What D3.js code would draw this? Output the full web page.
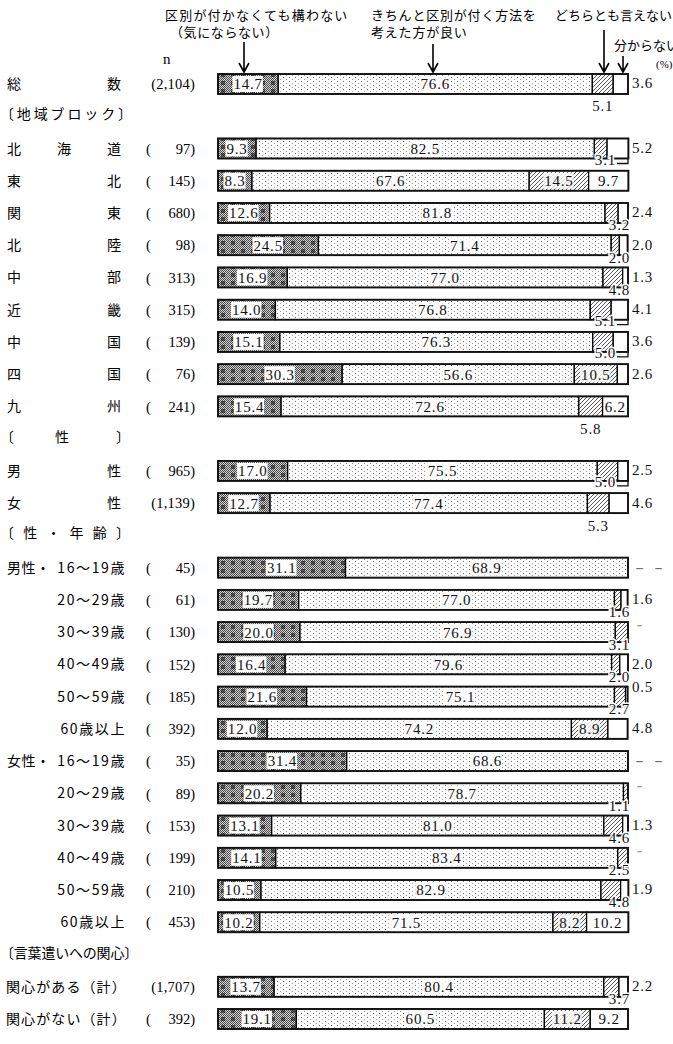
<!DOCTYPE html>
<html><head><meta charset="utf-8">
<script src="https://cdn.jsdelivr.net/npm/d3@7"></script>
<style>body{margin:0;background:#fff}svg{display:block}</style>
</head><body><svg id="c" width="673" height="1044"></svg>
<script>
// ---------------- data ----------------
const categories = ["総数","北海道","東北","関東","北陸","中部","近畿","中国","四国","九州","男性","女性",
  "男性・16～19歳","男性・20～29歳","男性・30～39歳","男性・40～49歳","男性・50～59歳","男性・60歳以上",
  "女性・16～19歳","女性・20～29歳","女性・30～39歳","女性・40～49歳","女性・50～59歳","女性・60歳以上",
  "関心がある（計）","関心がない（計）"];
const sampleN = [2104,97,145,680,98,313,315,139,76,241,965,1139,45,61,130,152,185,392,35,89,153,199,210,453,1707,392];
const notCare  = [14.7,9.3,8.3,12.6,24.5,16.9,14.0,15.1,30.3,15.4,17.0,12.7,31.1,19.7,20.0,16.4,21.6,12.0,31.4,20.2,13.1,14.1,10.5,10.2,13.7,19.1];
const better   = [76.6,82.5,67.6,81.8,71.4,77.0,76.8,76.3,56.6,72.6,75.5,77.4,68.9,77.0,76.9,79.6,75.1,74.2,68.6,78.7,81.0,83.4,82.9,71.5,80.4,60.5];
const neither  = [5.1,3.1,14.5,3.2,2.0,4.8,5.1,5.0,10.5,5.8,5.0,5.3,null,1.6,3.1,2.0,2.7,8.9,null,1.1,4.6,2.5,4.8,8.2,3.7,11.2];
const dontKnow = [3.6,5.2,9.7,2.4,2.0,1.3,4.1,3.6,2.6,6.2,2.5,4.6,null,1.6,null,2.0,0.5,4.8,null,null,1.3,null,1.9,10.2,2.2,9.2];
const seriesKeys = ["notCare","better","neither","dontKnow"];
const sectionTitles = ["地域ブロック","性","性・年齢","言葉遣いへの関心"];
const sectionStart  = [1,10,12,24];   // section header placed before this category index

// ---------------- setup ----------------
const svg = d3.select("#c");
const JP = "'Noto Sans CJK JP', sans-serif";
const NUM = "'Liberation Serif', 'DejaVu Serif', serif";

const defs = svg.append("defs");
// pattern 1: mesh with darker blocks
const p1 = defs.append("pattern").attr("id","pMesh").attr("width",10).attr("height",8).attr("patternUnits","userSpaceOnUse");
for (let i=0;i<10;i++) for (let j=0;j<8;j++){
  const inBlock = i>=1 && i<=4 && j>=1 && j<=4;
  const dark = (i+j)%2===0;
  p1.append("rect").attr("x",i).attr("y",j).attr("width",1).attr("height",1)
    .attr("fill", inBlock ? (dark ? "#1e1e1e" : "#707070") : (dark ? "#4a4a4a" : "#d4d4d4"));
}
// pattern 2: sparse dots
const p2 = defs.append("pattern").attr("id","pDots").attr("width",6).attr("height",4).attr("patternUnits","userSpaceOnUse");
p2.append("rect").attr("width",6).attr("height",4).attr("fill","#fff");
p2.append("rect").attr("x",1).attr("y",1).attr("width",1).attr("height",1).attr("fill","#666");
p2.append("rect").attr("x",4).attr("y",3).attr("width",1).attr("height",1).attr("fill","#999");
// pattern 3: diagonal hatch
const p3 = defs.append("pattern").attr("id","pHatch").attr("width",4).attr("height",4).attr("patternUnits","userSpaceOnUse");
p3.append("rect").attr("width",4).attr("height",4).attr("fill","#fff");
p3.append("path").attr("d","M-1,1 L1,-1 M0,4 L4,0 M3,5 L5,3").attr("stroke","#444").attr("stroke-width",0.9);
const fills = {notCare:"url(#pMesh)", better:"url(#pDots)", neither:"url(#pHatch)", dontKnow:"#fff"};

// slots (rows + section headers)
const slots = [];
categories.forEach((c,i)=>{
  const s = sectionStart.indexOf(i);
  if (s>=0) slots.push("#"+sectionTitles[s]);
  slots.push(c);
});
const y = d3.scalePoint().domain(slots).range([84,1019]);
const x = d3.scaleLinear().domain([0,100]).range([218,628]);
const barH = 20;

const table = categories.map((c,i)=>({cat:c, n:sampleN[i], notCare:notCare[i], better:better[i], neither:neither[i]||0, dontKnow:dontKnow[i]||0, rawNeither:neither[i], rawDK:dontKnow[i]}));
const stack = d3.stack().keys(seriesKeys)(table);

// ---------------- header ----------------
const hdr = svg.append("g").attr("font-family",JP).attr("font-size",13).attr("fill","#000");
hdr.append("text").attr("x",165).attr("y",20).attr("letter-spacing",1.2).text("区別が付かなくても構わない");
hdr.append("text").attr("x",170).attr("y",37).attr("letter-spacing",0.6).text("（気にならない）");
hdr.append("text").attr("x",371).attr("y",20).attr("letter-spacing",0.8).text("きちんと区別が付く方法を");
hdr.append("text").attr("x",371).attr("y",37).attr("letter-spacing",0.8).text("考えた方が良い");
hdr.append("text").attr("x",555).attr("y",20).attr("letter-spacing",0).text("どちらとも言えない");
hdr.append("text").attr("x",614).attr("y",50).attr("letter-spacing",0).text("分からない");
svg.append("text").attr("x",656).attr("y",68).attr("font-family",NUM).attr("font-size",11).text("(%)");
svg.append("text").attr("x",163).attr("y",64).attr("font-family",NUM).attr("font-size",15).text("n");
const arrows = [[244,42,72],[433,44,72],[604,30,72],[623,56,72]];
svg.append("g").selectAll("path").data(arrows).join("path")
  .attr("d",([ax,y1,y2])=>`M${ax},${y1}V${y2}M${ax-5},${y2-9}L${ax},${y2}L${ax+5},${y2-9}`)
  .attr("fill","none").attr("stroke","#000").attr("stroke-width",1.6);

// ---------------- left labels ----------------
function justify(g, text, x0, x1, yy, size){
  const chars = Array.from(text);
  const step = chars.length>1 ? (x1-x0-size)/(chars.length-1) : 0;
  chars.forEach((ch,i)=>g.append("text").attr("x",x0+i*step).attr("y",yy).attr("dy","0.36em").text(ch));
}
const left = svg.append("g").attr("font-family",JP).attr("font-size",14).attr("fill","#000");
sectionTitles.forEach((t)=>{
  const yy = y("#"+t)-2;
  if (t==="地域ブロック") justify(left,"〔地域ブロック〕",0,132,yy,14);
  else if (t==="性") { left.append("text").attr("x",0).attr("y",yy).attr("dy","0.36em").text("〔");
    left.append("text").attr("x",55).attr("y",yy).attr("dy","0.36em").text("性");
    left.append("text").attr("x",116).attr("y",yy).attr("dy","0.36em").text("〕"); }
  else if (t==="性・年齢") justify(left,"〔性・年齢〕",0,130,yy,14);
  else left.append("text").attr("x",0).attr("y",yy).attr("dy","0.36em").attr("letter-spacing",-0.2).text("〔"+t+"〕");
});
categories.forEach((c,i)=>{
  const yy = y(c);
  if (c.includes("・")) {
    const [pre,age] = c.split("・");
    if (age.startsWith("16")) justify(left, pre+"・", 7, 50, yy, 14);
    left.append("text").attr("x",126).attr("y",yy).attr("dy","0.36em").attr("text-anchor","end")
      .attr("letter-spacing",1.6).text(age);
  } else if (c.includes("関心")) {
    left.append("text").attr("x",6).attr("y",yy).attr("dy","0.36em").attr("letter-spacing",1.1).text(c);
  } else {
    justify(left,c,7,121,yy,14);
  }
  const nStr = d3.format(",")(sampleN[i]);
  if (sampleN[i] >= 1000) {
    left.append("text").attr("x",195).attr("y",yy).attr("dy","0.36em").attr("text-anchor","end")
      .attr("font-family",NUM).attr("font-size",14.5).attr("letter-spacing",0.2).text("("+nStr+")");
  } else {
    left.append("text").attr("x",146).attr("y",yy).attr("dy","0.36em").attr("font-family",NUM).attr("font-size",14.5).text("(");
    left.append("text").attr("x",195).attr("y",yy).attr("dy","0.36em").attr("text-anchor","end")
      .attr("font-family",NUM).attr("font-size",14.5).text(nStr+")");
  }
});

// ---------------- bars ----------------
const bars = svg.append("g");
stack.forEach(layer=>{
  bars.append("g").selectAll("rect").data(layer).join("rect")
    .attr("x",d=>x(d[0])).attr("width",d=>Math.max(0,x(d[1])-x(d[0])))
    .attr("y",d=>y(d.data.cat)-barH/2).attr("height",barH)
    .attr("fill",fills[layer.key]).attr("stroke","#000").attr("stroke-width",1.3);
});
bars.append("g").selectAll("rect").data(table).join("rect")
  .attr("x",x(0)).attr("width",d=>x(d.notCare+d.better+d.neither+d.dontKnow)-x(0))
  .attr("y",d=>y(d.cat)-barH/2).attr("height",barH)
  .attr("fill","none").attr("stroke","#111").attr("stroke-width",1.8);

// ---------------- value labels ----------------
const fmt = v => v.toFixed(1);
const lab = svg.append("g").attr("font-family",NUM).attr("font-size",15).attr("fill","#111").attr("letter-spacing",0.8);
const dropSet = new Set(["総数","九州","女性"]);
const leaderSet = new Set(["北海道","近畿","中国","男性"]);
function txt(xx,yy,t,anchor,halo){
  const e = lab.append("text").attr("x",xx).attr("y",yy).attr("dy","0.36em").attr("text-anchor",anchor||"middle").text(t);
  if (halo) e.attr("stroke","#fff").attr("stroke-width",3).attr("paint-order","stroke");
  return e;
}
function boxed(xx,yy,t,op){
  const e = txt(xx,yy,t);
  const b = e.node().getBBox();
  lab.insert("rect","text:last-child").attr("x",b.x-1).attr("y",yy-8).attr("width",b.width+1).attr("height",16).attr("fill","#fff").attr("opacity",op);
}
table.forEach((d,i)=>{
  const cy = y(d.cat), bottom = cy+barH/2;
  const s1 = stack[0][i], s2 = stack[1][i], s3 = stack[2][i], s4 = stack[3][i];
  boxed((x(s1[0])+x(s1[1]))/2, cy, fmt(d.notCare), 1);
  boxed((x(s2[0])+x(s2[1]))/2, cy, fmt(d.better), 0.85);
  if (d.rawNeither != null) {
    if (d.rawNeither >= 8) {
      boxed((x(s3[0])+x(s3[1]))/2, cy, fmt(d.rawNeither), 0.8);
    } else if (dropSet.has(d.cat)) {
      txt((x(s3[0])+x(s3[1]))/2, bottom+12, fmt(d.rawNeither));
    } else if (leaderSet.has(d.cat)) {
      txt(616, bottom+1, fmt(d.rawNeither), "end", true);
      lab.append("path").attr("d",`M617,${bottom+5}H${x(100)}V${bottom}`).attr("fill","none").attr("stroke","#111").attr("stroke-width",1.3);
    } else {
      txt(630, bottom+2, fmt(d.rawNeither), "end", true);
    }
  }
  if (d.rawDK != null) {
    if (d.rawDK >= 6) {
      txt((x(s4[0])+x(s4[1]))/2, cy, fmt(d.rawDK));
    } else {
      txt(x(100)+4, d.rawDK < 1 ? cy-10 : cy-1, fmt(d.rawDK), "start");
    }
  } else if (d.rawNeither == null) {
    txt(x(100)+4, cy, "－ －", "start").attr("letter-spacing",0).attr("fill","#555");
  } else {
    txt(x(100)+6, cy-7, "－", "start").attr("font-size",11).attr("fill","#555");
  }
});
</script></body></html>
